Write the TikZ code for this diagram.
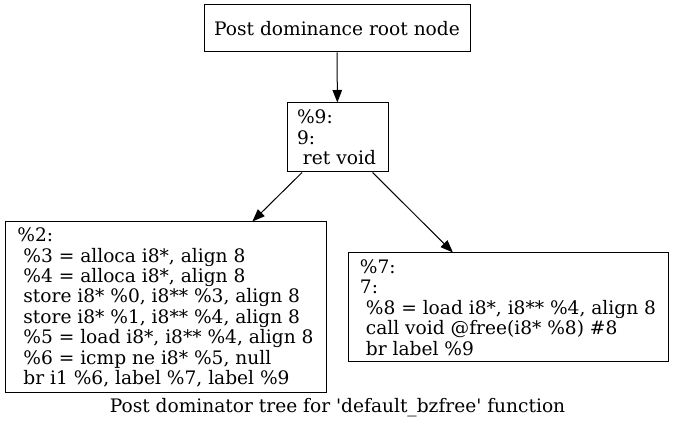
\documentclass[tikz,border=0pt]{standalone}
\usepackage{fontspec}
\setmainfont{DejaVu Serif}
\usetikzlibrary{arrows.meta}
\newcommand\indsp{\hspace*{0.318em}}
\tikzset{
  blk/.style={draw=black, line width=1pt, inner ysep=0pt, align=left,
    font=\fontsize{18.6}{20.4}\selectfont},
  rootbox/.style={draw=black, line width=1pt, inner sep=0pt, align=center,
    font=\fontsize{18.6}{20.4}\selectfont},
  edge/.style={draw=black, line width=1pt, -{Triangle[length=12.5pt,width=9.5pt]}},
}
\begin{document}
\begin{tikzpicture}[x=1pt,y=1pt]
\useasboundingbox (0,0) rectangle (675,431);
\node[rootbox, minimum width=266pt, minimum height=47pt] (root) at (337,402.5) {Post dominance root node};
\node[blk, minimum width=101pt, minimum height=69pt, inner xsep=10pt, text width=81pt] (n9) at (337.5,293.5)
  {\%9:\\9:\\\indsp ret void};
\node[blk, minimum width=321pt, minimum height=171pt, inner xsep=6pt] (n2) at (165.5,123.5)
  {\%2:\\
   \indsp\%3 = alloca i8*, align 8\\
   \indsp\%4 = alloca i8*, align 8\\
   \indsp store i8* \%0, i8** \%3, align 8\\
   \indsp store i8* \%1, i8** \%4, align 8\\
   \indsp\%5 = load i8*, i8** \%4, align 8\\
   \indsp\%6 = icmp ne i8* \%5, null\\
   \indsp br i1 \%6, label \%7, label \%9};
\node[blk, minimum width=320pt, minimum height=109pt, inner xsep=6pt] (n7) at (508,123.5)
  {\%7:\\
   7:\\
   \indsp\%8 = load i8*, i8** \%4, align 8\\
   \indsp call void @free(i8* \%8) \#8\\
   \indsp br label \%9};
\node[anchor=base, inner sep=0pt, font=\fontsize{18.6}{20.4}\selectfont] (cap) at (337.5,18)
  {Post dominator tree for \textquotesingle default\_bzfree\textquotesingle\ function};
\draw[edge] (root) -- (n9);
\draw[edge] (n9) -- (n2);
\draw[edge] (n9) -- (n7);
\end{tikzpicture}
\end{document}
